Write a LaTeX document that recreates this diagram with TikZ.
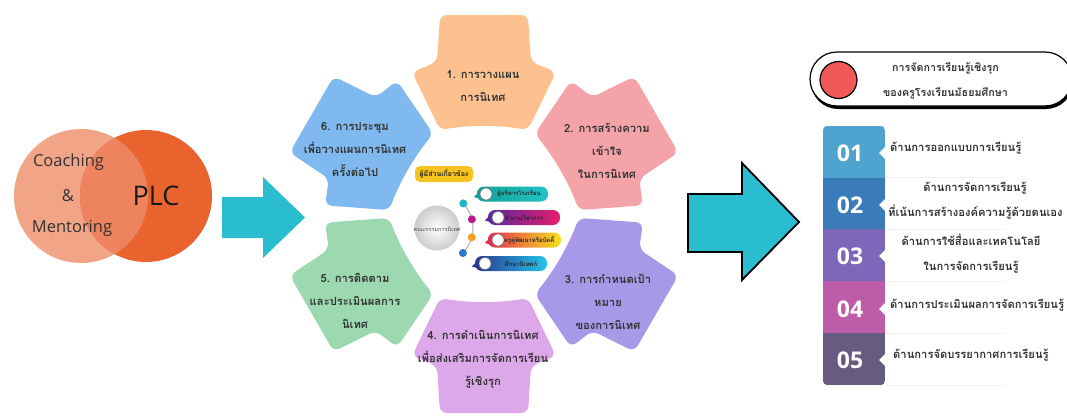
\documentclass[tikz,border=0pt]{standalone}
\usepackage{fontspec}
\setmainfont{Open Sans}
\newfontfamily\thai[Script=Thai]{Loma}
\usetikzlibrary{calc}
\definecolor{pa}{HTML}{FCC18F}
\definecolor{pb}{HTML}{F4A4A9}
\definecolor{pc}{HTML}{A898E8}
\definecolor{pd}{HTML}{DDA8EA}
\definecolor{pe}{HTML}{9CD8B0}
\definecolor{pf}{HTML}{7FB9EF}
\definecolor{arrowcyan}{HTML}{2ABDD0}
\definecolor{rowa}{HTML}{4FA4CF}
\definecolor{rowb}{HTML}{3A7CB9}
\definecolor{rowc}{HTML}{7D67BA}
\definecolor{rowd}{HTML}{BD5CA9}
\definecolor{rowe}{HTML}{675B7F}
\definecolor{vennl}{HTML}{F2A486}
\definecolor{vennr}{HTML}{E9632F}
\definecolor{venno}{HTML}{EE845F}
\definecolor{txt}{HTML}{333333}
\definecolor{ylw}{HTML}{F7C31E}
\definecolor{redc}{HTML}{F25757}
\definecolor{dota}{RGB}{27,184,196}
\definecolor{dotb}{RGB}{190,22,140}
\definecolor{dotc}{RGB}{242,160,32}
\definecolor{dotd}{RGB}{45,120,205}
\definecolor{pla}{RGB}{18,160,150}
\definecolor{plar}{RGB}{32,196,200}
\definecolor{plb}{RGB}{92,40,155}
\definecolor{plbr}{RGB}{230,30,110}
\definecolor{plc}{RGB}{229,45,80}
\definecolor{plcr}{RGB}{247,226,26}
\definecolor{pld}{RGB}{42,56,145}
\definecolor{pldr}{RGB}{38,195,232}
\begin{document}
\begin{tikzpicture}[x=1pt,y=-1pt,
  ptext/.style={font=\thai\bfseries\fontsize{11.2}{23}\selectfont, text=txt, align=center, inner sep=0pt},
  ltext/.style={font=\thai\bfseries\fontsize{11.2}{25}\selectfont, text=txt, align=center, inner sep=0pt},
  htext/.style={font=\thai\bfseries\fontsize{10.7}{25}\selectfont, text=txt, align=center, inner sep=0pt},
  numtext/.style={font=\bfseries\fontsize{23}{23}\selectfont, text=white, inner sep=0pt},
  venntext/.style={font=\fontsize{16.5}{17}\selectfont, text=txt, inner sep=0pt},
  pilltext/.style={font=\thai\bfseries\fontsize{6}{6}\selectfont, text=black!85, inner sep=0pt},
  pillbox/.style={rectangle, rounded corners=7pt, minimum height=15pt, inner sep=0pt},
  pilldot/.style={circle, fill=white, draw=black!55, line width=0.6pt, minimum size=12pt, inner sep=0pt},
  linkdot/.style={circle, minimum size=8pt, inner sep=0pt},
  petal/.pic={\fill[#1, rounded corners=7pt] (-44,-84) .. controls (-15,-89) and (15,-89) .. (44,-84) -- (72,-142) -- (47,-152) -- (44,-199) -- (-44,-199) -- (-47,-152) -- (-72,-142) -- cycle;}
]
\useasboundingbox (0,0) rectangle (1067,415);

% ---------- Venn ----------
\node[circle, fill=vennl, minimum size=134pt, inner sep=0pt] (cm) at (81,196) {};
\node[circle, fill=vennr, minimum size=132pt, inner sep=0pt] (plcc) at (146,196) {};
\begin{scope}
  \clip (81,196) circle (67);
  \fill[venno] (146,196) circle (66);
\end{scope}
\node[venntext] (coach) at (68.5,162) {Coaching};
\node[venntext] (amp) at (68,196) {\&};
\node[venntext] (ment) at (72,228) {Mentoring};
\node[font=\fontsize{27}{27}\selectfont, text=black!90, inner sep=0pt] (plc) at (156,196) {PLC};

% ---------- arrow 1 ----------
\fill[arrowcyan] (222,197) -- (263,197) -- (263,177) -- (305,217.5) -- (263,258) -- (263,238) -- (222,238) -- cycle;

% ---------- petals ----------
\pic at (484,214) {petal=pa};
\pic[rotate=-60] at (484,214) {petal=pb};
\pic[rotate=-120] at (484,214) {petal=pc};
\pic[rotate=180] at (484,214) {petal=pd};
\pic[rotate=120] at (484,214) {petal=pe};
\pic[rotate=60] at (484,214) {petal=pf};

\node[ptext] (t1) at (483,86) {1. การวางแผน\\การนิเทศ};
\node[ptext] (t2) at (607,151) {2. การสร้างความ\\เข้าใจ\\ในการนิเทศ};
\node[ptext] (t3) at (608,302) {3. การกำหนดเป้า\\หมาย\\ของการนิเทศ};
\node[ptext] (t4) at (483,359) {4. การดำเนินการนิเทศ\\เพื่อส่งเสริมการจัดการเรียน\\รู้เชิงรุก};
\node[ptext] (t5) at (355,301) {5. การติดตาม\\และประเมินผลการ\\นิเทศ};
\node[ptext] (t6) at (355,149) {6. การประชุม\\เพื่อวางแผนการนิเทศ\\ครั้งต่อไป};

% ---------- centre: stakeholders ----------
\node[fill=ylw, rounded corners=5pt, minimum width=58pt, minimum height=16pt, inner sep=0pt,
      font=\thai\bfseries\fontsize{7}{7}\selectfont, text=black!85] (stk) at (444,174) {ผู้มีส่วนเกี่ยวข้อง};

\draw[gray!55, line width=1.2pt] (463.3,203.4) arc[start angle=-43, end angle=44, radius=36];
\node[circle, minimum size=45pt, inner sep=0pt, inner color=white, outer color=gray!40] (com) at (437,228) {};
\node[font=\thai\fontsize{5.5}{6}\selectfont, text=black!70, inner sep=0pt] (comt) at (437,229) {คณะกรรมการนิเทศ};

\node[linkdot, fill=dota] (d1) at (463.3,203.4) {};
\node[linkdot, fill=dotb] (d2) at (471.9,219.3) {};
\node[linkdot, fill=dotc] (d3) at (471.8,237.3) {};
\node[linkdot, fill=dotd] (d4) at (462.9,253.0) {};

\node[pillbox, minimum width=71pt, left color=pla, right color=plar] (p1) at (512.5,194) {};
\node[pillbox, minimum width=72pt, left color=plb, right color=plbr] (p2) at (524,217.5) {};
\node[pillbox, minimum width=73pt, left color=plc, right color=plcr] (p3) at (524.5,240) {};
\node[pillbox, minimum width=72pt, left color=pld, right color=pldr] (p4) at (511,263.5) {};

\fill[pla] ($(p1.west)+(3,-3)$) -- ($(p1.west)+(-3,3)$) -- ($(p1.west)+(4,5)$) -- cycle;
\fill[plb] ($(p2.west)+(3,-3)$) -- ($(p2.west)+(-3,3)$) -- ($(p2.west)+(4,5)$) -- cycle;
\fill[plc] ($(p3.west)+(3,-3)$) -- ($(p3.west)+(-3,3)$) -- ($(p3.west)+(4,5)$) -- cycle;
\fill[pld] ($(p4.west)+(3,-3)$) -- ($(p4.west)+(-3,3)$) -- ($(p4.west)+(4,5)$) -- cycle;

\node[pilldot] (w1) at (486,194) {};
\node[pilldot] (w2) at (498,217.5) {};
\node[pilldot] (w3) at (498,240) {};
\node[pilldot] (w4) at (485,263.5) {};

\node[pilltext] (s1) at (519,194) {ผู้บริหารโรงเรียน};
\node[pilltext] (s2) at (524,218) {หัวงานวิชาการ};
\node[pilltext] (s3) at (529,240) {ครูคู่พัฒนาหรือบัดดี้};
\node[pilltext] (s4) at (521,264) {ศึกษานิเทศก์};

% ---------- arrow 2 ----------
\filldraw[fill=arrowcyan, draw=black, line width=1.8pt, line join=miter] (688,194) -- (742,194) -- (742,163) -- (799,222) -- (742,280) -- (742,252) -- (688,252) -- cycle;

% ---------- header ----------
\fill[black, rounded corners=27pt] (811,55) rectangle (1073,109);
\node[rectangle, rounded corners=27pt, fill=white, draw=black, line width=1.2pt, minimum width=262pt, minimum height=54pt, inner sep=0pt] (hdr) at (941,79) {};
\node[circle, fill=redc, draw=black, line width=1.2pt, minimum size=37pt, inner sep=0pt] (rdot) at (838.5,80) {};
\node[htext] (ht) at (945.5,81) {การจัดการเรียนรู้เชิงรุก\\ของครูโรงเรียนมัธยมศึกษา};

% ---------- list ----------
\begin{scope}
  \clip[rounded corners=4pt] (823,126) rectangle (885,385);
  \fill[rowa] (823,126) rectangle (885,177.5);
  \fill[rowb] (823,177.5) rectangle (885,229);
  \fill[rowc] (823,229) rectangle (885,281);
  \fill[rowd] (823,281) rectangle (885,333);
  \fill[rowe] (823,333) rectangle (885,385);
\end{scope}
\foreach \yy in {153,205,256,309,360}{
  \fill[white] (886,\yy-7) -- (879,\yy) -- (886,\yy+7) -- cycle;
}
\foreach \yy in {177.5,229,281,333,385}{
  \draw[gray!12, line width=0.8pt] (886,\yy) -- (1005,\yy);
}
\node[numtext] (n1) at (850,153) {01};
\node[numtext] (n2) at (850,205) {02};
\node[numtext] (n3) at (850,256) {03};
\node[numtext] (n4) at (850,309) {04};
\node[numtext] (n5) at (850,360) {05};

\node[ltext, anchor=west] (l1) at (890,148) {ด้านการออกแบบการเรียนรู้};
\node[ltext] (l2a) at (975,188) {ด้านการจัดการเรียนรู้};
\node[ltext, anchor=west] (l2b) at (888,212) {ที่เน้นการสร้างองค์ความรู้ด้วยตนเอง};
\node[ltext] (l3) at (971,253.5) {ด้านการใช้สื่อและเทคโนโลยี\\ในการจัดการเรียนรู้};
\node[ltext, anchor=west] (l4) at (890,305) {ด้านการประเมินผลการจัดการเรียนรู้};
\node[ltext, anchor=west] (l5) at (893,355) {ด้านการจัดบรรยากาศการเรียนรู้};
\end{tikzpicture}
\end{document}
